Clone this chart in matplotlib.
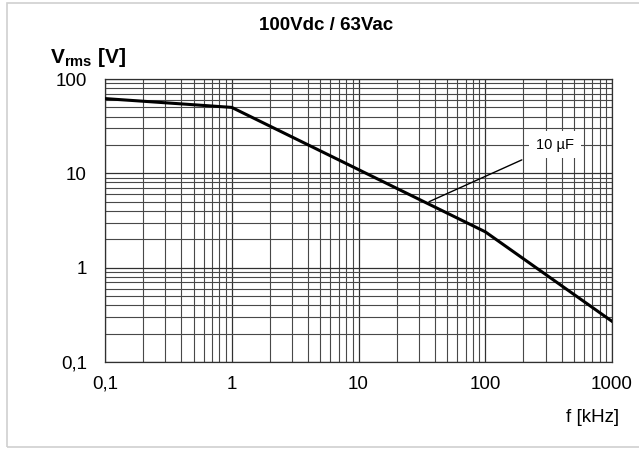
import matplotlib
matplotlib.use('Agg')
import matplotlib.pyplot as plt
from matplotlib.ticker import FixedLocator, NullFormatter, LogLocator
from matplotlib.patches import Rectangle

plt.rcParams['font.family'] = ['Liberation Sans', 'DejaVu Sans']
plt.rcParams['mathtext.fontset'] = 'custom'
plt.rcParams['mathtext.rm'] = 'Liberation Sans:bold'
plt.rcParams['mathtext.bf'] = 'Liberation Sans:bold'

# curve (kHz, V)
freq = [0.1, 1, 100, 1000]
vrms = [62, 50, 2.4, 0.27]

xticks = [0.1, 1, 10, 100, 1000]
xlabels = ['0,1', '1', '10', '100', '1000']
yticks = [0.1, 1, 10, 100]
ylabels = ['0,1', '1', '10', '100']

note_text = '10 µF'
note_point = (36, 5.0)
note_text_pos = (355, 20)

fig = plt.figure(figsize=(6.39, 4.49), dpi=100)
ax = fig.add_axes([105 / 639, 1 - 362 / 449, 507 / 639, 283 / 449])

ax.set_xscale('log')
ax.set_yscale('log')
ax.set_xlim(0.1, 1000)
ax.set_ylim(0.1, 100)

ax.plot(freq, vrms, color='black', lw=2.2, zorder=3)

ax.xaxis.set_major_locator(FixedLocator(xticks))
ax.yaxis.set_major_locator(FixedLocator(yticks))
ax.xaxis.set_minor_locator(LogLocator(base=10, subs=range(2, 10)))
ax.yaxis.set_minor_locator(LogLocator(base=10, subs=range(2, 10)))
ax.xaxis.set_minor_formatter(NullFormatter())
ax.yaxis.set_minor_formatter(NullFormatter())
ax.set_xticklabels(xlabels)
ax.set_yticklabels(ylabels)
ax.tick_params(which='both', length=0)
ax.tick_params(axis='x', labelsize=13.5, pad=10)
ax.tick_params(axis='y', labelsize=13.5, pad=13)

ax.grid(which='major', color='#303030', lw=0.9)
ax.grid(which='minor', color='#484848', lw=0.8)
for s in ax.spines.values():
    s.set_color('#303030')
    s.set_linewidth(0.9)

ax.annotate(note_text, xy=note_point, xytext=note_text_pos,
            fontsize=10.5, ha='center', va='center',
            bbox=dict(boxstyle='square,pad=0.45', fc='white', ec='none'),
            arrowprops=dict(arrowstyle='-', color='black', lw=1.0,
                            shrinkA=6, shrinkB=0),
            zorder=4)

fig.text(326 / 639, 1 - 25 / 449, '100Vdc / 63Vac', ha='center', va='center',
         fontsize=13.5, fontweight='bold')
fig.text(50 / 639, 1 - 63 / 449, r'$\mathrm{V_{rms}}$ [V]', ha='left',
         va='baseline', fontsize=15, fontweight='bold')
fig.text(619 / 639, 1 - 418 / 449, 'f [kHz]', ha='right', va='center',
         fontsize=13.5)

fig.patches.append(Rectangle((7 / 639, 2 / 449), 640 / 639, 444 / 449,
                             transform=fig.transFigure, fill=False,
                             ec='#d0d0d0', lw=1.2))

fig.savefig('out.png', dpi=100)
